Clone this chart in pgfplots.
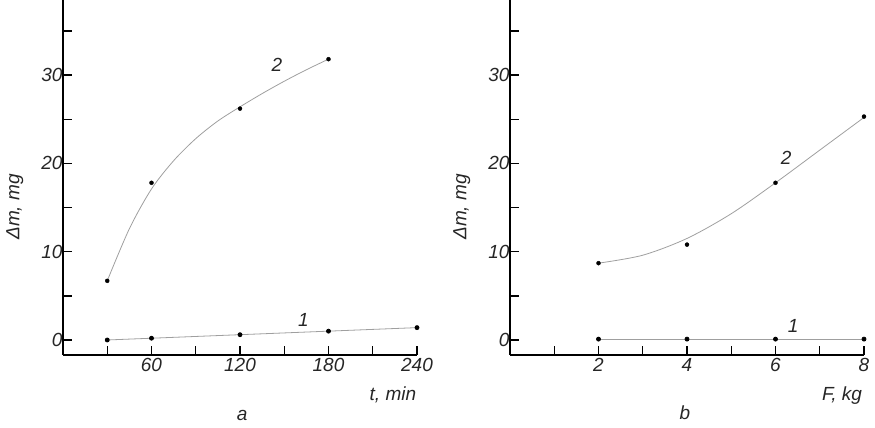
\documentclass[border=0pt]{standalone}
\usepackage{fontspec}
\setmainfont{Liberation Sans}
\usepackage{pgfplots}
\pgfplotsset{compat=1.18}

\tikzset{lbl/.style={font=\fontsize{19}{19}\selectfont\itshape, text=black!85}}
\pgfplotsset{
  panel/.style={
    scale only axis, width=354pt, height=355pt,
    axis lines=left, axis line style={-, line width=2pt, black},
    tick align=inside, major tick length=9pt,
    tick style={line width=1.4pt, black},
    /pgf/number format/assume math mode=true,
    ticklabel style={font=\fontsize{19}{19}\selectfont\itshape, text=black!85},
    yticklabel style={xshift=3pt},
    label style={font=\fontsize{19}{19}\selectfont\itshape, text=black!85},
    ymin=-1.7, ymax=38.5,
    ytick={0,5,...,35}, yticklabels={0,,10,,20,,30,},
    ylabel={Δm, mg},
    ylabel style={at={(rel axis cs:-0.136,0.417)}, anchor=center},
    clip=false,
  },
  fit/.style={color=gray!75, line width=0.8pt, smooth, no markers},
  pts/.style={only marks, mark=*, mark size=2pt, black},
}

\begin{document}
\begin{tikzpicture}
\path[use as bounding box] (0,0) rectangle (875pt,428pt);

% panel a
\begin{axis}[panel, at={(63pt,73pt)}, anchor=south west,
    xmin=0, xmax=240,
    xtick={30,60,...,240}, xticklabels={,60,,120,,180,,240},
    xlabel={t, min},
    xlabel style={at={(rel axis cs:0.932,-0.113)}, anchor=center}]
% fitted curve
\addplot[fit] coordinates {(30,6.7) (45,12.6) (60,17.1) (75,20.3) (90,22.8)
    (105,24.8) (120,26.4) (135,27.9) (150,29.3) (165,30.6) (180,31.8)};
\addplot[pts] coordinates {(30,6.7) (60,17.8) (120,26.2) (180,31.8)};
\addplot[color=gray!75, line width=0.8pt, mark=*, mark size=2pt,
    mark options={black}] coordinates {(30,0) (60,0.2) (120,0.6) (180,1.0) (240,1.4)};
\node[lbl] at (axis cs:145,31.1) {2};
\node[lbl] at (axis cs:163,2.3) {1};
\node[lbl] at (rel axis cs:0.506,-0.169) {a};
\end{axis}

% panel b
\begin{axis}[panel, at={(510pt,73pt)}, anchor=south west,
    xmin=0, xmax=8,
    xtick={1,...,8}, xticklabels={,2,,4,,6,,8},
    xlabel={F, kg},
    xlabel style={at={(rel axis cs:0.938,-0.113)}, anchor=center}]
\addplot[fit] coordinates {(2,8.7) (3,9.6) (4,11.5) (5,14.3) (6,17.8)
    (7,21.5) (8,25.2)};
\addplot[pts] coordinates {(2,8.7) (4,10.8) (6,17.8) (8,25.3)};
\addplot[color=gray!75, line width=0.8pt, mark=*, mark size=2pt,
    mark options={black}] coordinates {(2,0.1) (4,0.1) (6,0.1) (8,0.1)};
\node[lbl] at (axis cs:6.24,20.6) {2};
\node[lbl] at (axis cs:6.4,1.6) {1};
\node[lbl] at (rel axis cs:0.494,-0.163) {b};
\end{axis}
\end{tikzpicture}
\end{document}
